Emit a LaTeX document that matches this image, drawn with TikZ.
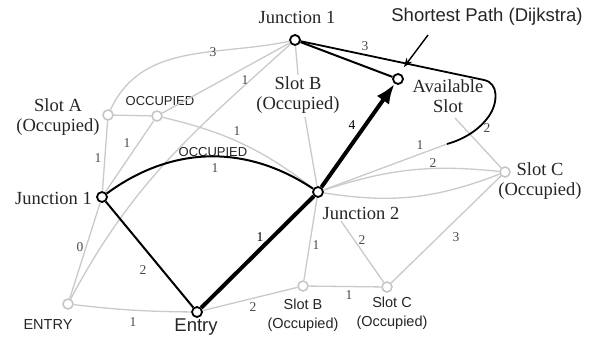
\documentclass[tikz,border=0pt]{standalone}
\usepackage{fontspec}
\setmainfont{Liberation Serif}
\newfontfamily\sansf{Liberation Sans}
\usetikzlibrary{arrows.meta}
\definecolor{lgray}{HTML}{CACACA}
\definecolor{cgray}{HTML}{C4C4C4}
\definecolor{dgray}{HTML}{4A4A4A}
\begin{document}
\begin{tikzpicture}[x=1pt,y=1pt,
  gnode/.style={circle,draw=cgray,fill=white,line width=1.5pt,minimum size=10pt,inner sep=0pt},
  bnode/.style={circle,draw=black,fill=white,line width=1.8pt,minimum size=10pt,inner sep=0pt},
  gedge/.style={draw=lgray,line width=1.3pt},
  bedge/.style={draw=black,line width=2pt},
  pathedge/.style={draw=black,line width=4pt},
  elab/.style={font=\fontsize{13.5}{14}\selectfont,text=dgray,inner sep=0pt},
  serlab/.style={font=\fontsize{18.5}{20}\selectfont,align=center,inner sep=0pt,text=black!85},
  sanbig/.style={font=\sansf\fontsize{18.5}{20}\selectfont,align=center,inner sep=0pt,text=black!85},
  sansmall/.style={font=\sansf\fontsize{14.5}{18.5}\selectfont,align=center,inner sep=0pt,text=black!85},
  occlab/.style={font=\sansf\fontsize{13}{14}\selectfont,inner sep=0pt,text=black!85},
  ptr/.style={draw=black,line width=1.4pt,-{Stealth[length=9pt,width=7pt]}}
]
\fill[white] (0,0) rectangle (592,341);
\useasboundingbox (0,0) rectangle (592,341);

% nodes
\node[bnode] (J1t) at (295,301) {};
\node[bnode] (Av) at (398,262) {};
\node[gnode] (SA) at (108,226) {};
\node[gnode] (Oc) at (157,225) {};
\node[bnode] (J1l) at (102,144) {};
\node[bnode] (J2) at (318,149) {};
\node[gnode] (SCr) at (505,169) {};
\node[gnode] (EN) at (68,37) {};
\node[bnode] (En) at (197,29) {};
\node[gnode] (SBb) at (303,55) {};
\node[gnode] (SCb) at (387,54) {};

% texts
\node[serlab] (tJ1t) at (297,324) {Junction 1};
\node[sanbig] (tSP) at (487,324) {Shortest Path (Dijkstra)};
\node[serlab] (tSA) at (58,224) {Slot A\\(Occupied)};
\node[occlab] (tOc1) at (160,240) {OCCUPIED};
\node[serlab] (tSBt) at (298,246) {Slot B\\(Occupied)};
\node[serlab] (tAv) at (448,245) {Available\\Slot};
\node[serlab] (tSCr) at (540,160) {Slot C\\(Occupied)};
\node[serlab,anchor=east] (tJ1l) at (92,143) {Junction 1};
\node[occlab] (tOc2) at (213,189) {OCCUPIED};
\node[serlab] (tJ2) at (361,128) {Junction 2};
\node[sansmall] (tEN) at (48,16) {ENTRY};
\node[sanbig] (tEn) at (196,14) {Entry};
\node[sansmall] (tSBb) at (303,26) {Slot B\\(Occupied)};
\node[sansmall] (tSCb) at (392,28) {Slot C\\(Occupied)};

% helper coordinates
\coordinate (sbt) at (298,266);
\coordinate (sbb) at (305,224);
\coordinate (avs) at (455,223);
\coordinate (j2s) at (341,120);
\coordinate (lp) at (447,197);
\coordinate (lc) at (484,261);
\coordinate (sp1) at (428,306);
\coordinate (sp2) at (404,274);

% gray edges
\draw[gedge] (SA) to[out=65,in=192] (J1t);
\draw[gedge] (Oc) -- (J1t);
\draw[gedge] (EN) to[out=62,in=222] (J1t);
\draw[gedge] (SA) -- (Oc);
\draw[gedge] (SA) -- (J1l);
\draw[gedge] (Oc) -- (J1l);
\draw[gedge] (J1l) -- (EN);
\draw[gedge] (Oc) to[bend left=12] (J2);
\draw[gedge] (EN) to[bend right=3] (En);
\draw[gedge] (En) -- (SBb);
\draw[gedge] (SBb) -- (SCb);
\draw[gedge] (SCb) -- (SCr);
\draw[gedge] (J2) -- (SBb);
\draw[gedge] (j2s) -- (SCb);
\draw[gedge] (J2) to[bend left=12] (SCr);
\draw[gedge] (J2) to[bend right=15] (SCr);
\draw[gedge] (avs) -- (SCr);
\draw[gedge] (J1t) -- (sbt);
\draw[gedge] (sbb) -- (J2);
\draw[gedge] (J2) -- (lp);

% black edges
\draw[bedge] (J1l) to[bend left=35] (J2);
\draw[bedge] (J1l) -- (En);
\draw[bedge] (J1t) -- (Av);
\draw[bedge,line width=1.8pt] (J1t) -- (lc) .. controls (499,258) and (498,238) .. (489,225) .. controls (480,212) and (465,202) .. (lp);
\draw[pathedge] (En) -- (J2);
\draw[pathedge,-{Latex[length=20pt,width=15pt]}] (J2) -- (Av);
\draw[ptr] (sp1) -- (sp2);

% edge labels
\node[elab] (l1) at (213,289) {3};
\node[elab] (l2) at (245,261) {1};
\node[elab] (l3) at (365,295) {3};
\node[elab,text=black] (l4) at (352,216) {4};
\node[elab] (l5) at (237,210) {1};
\node[elab] (l6) at (98,183) {1};
\node[elab] (l7) at (127,198) {1};
\node[elab] (l8) at (215,173) {1};
\node[elab] (l9) at (420,196) {1};
\node[elab] (l10) at (487,213) {2};
\node[elab] (l11) at (433,178) {2};
\node[elab] (l12) at (80,94) {0};
\node[elab] (l13) at (143,71) {2};
\node[elab,text=black] (l14) at (260,104) {1};
\node[elab] (l15) at (316,96) {1};
\node[elab] (l16) at (362,101) {2};
\node[elab] (l17) at (456,104) {3};
\node[elab] (l18) at (253,34) {2};
\node[elab] (l19) at (349,46) {1};
\node[elab] (l20) at (133,19) {1};
\end{tikzpicture}
\end{document}
